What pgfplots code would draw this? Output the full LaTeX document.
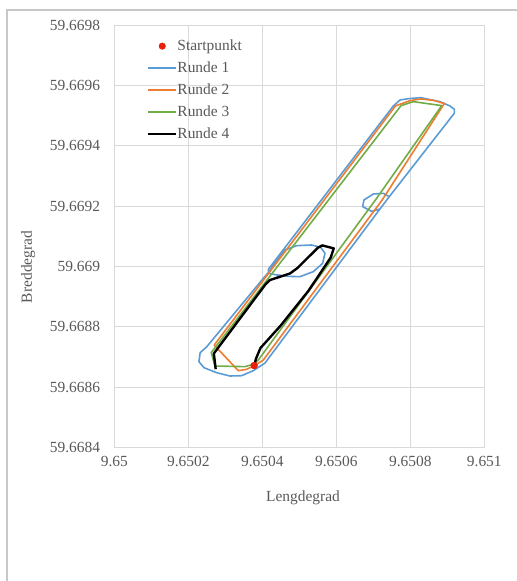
\documentclass[border=0pt]{standalone}
\usepackage{fontspec}
\setmainfont{Liberation Serif}
\usepackage{pgfplots}
\pgfplotsset{compat=1.18}
\definecolor{gridgray}{HTML}{D9D9D9}
\definecolor{framegray}{HTML}{C8C8C8}
\definecolor{textgray}{HTML}{595959}
\definecolor{xlblue}{HTML}{5B9BD5}
\definecolor{xlorange}{HTML}{ED7D31}
\definecolor{xlgreen}{HTML}{70AD47}
\definecolor{xlred}{HTML}{E8200C}
\begin{document}
\begin{tikzpicture}[x=1bp,y=1bp]
\path[use as bounding box] (0,0) rectangle (517,581);
\draw[framegray,line width=1.2bp] (7,0) -- (7,571) -- (517,571);
\begin{axis}[
  at={(114.3bp,133.3bp)}, anchor=south west,
  width=370bp, height=422.7bp, scale only axis,
  xmin=9.65, xmax=9.651, ymin=59.6684, ymax=59.6698,
  xtick={9.65,9.6502,9.6504,9.6506,9.6508,9.651},
  xticklabels={9.65,9.6502,9.6504,9.6506,9.6508,9.651},
  ytick={59.6684,59.6686,59.6688,59.669,59.6692,59.6694,59.6696,59.6698},
  yticklabels={59.6684,59.6686,59.6688,59.669,59.6692,59.6694,59.6696,59.6698},
  scaled ticks=false,
  grid=major, major grid style={gridgray, line width=0.9bp},
  axis line style={gridgray, line width=0.9bp},
  major tick length=0pt,
  tick label style={font=\fontsize{15.5}{18}\selectfont, text=textgray},
  yticklabel style={anchor=east, inner sep=0pt, xshift=-14bp},
  xticklabel style={anchor=north, inner sep=0pt, yshift=-8.5bp},
  xlabel={Lengdegrad}, ylabel={Breddegrad},
  label style={font=\fontsize{15.5}{18}\selectfont, text=textgray},
  xlabel style={at={(axis description cs:0.51,-0.119)}, anchor=center},
  ylabel style={at={(axis description cs:-0.233,0.4275)}, anchor=center, rotate=0},
  legend style={draw=none, fill=none, at={(axis description cs:0.088,0.967)}, anchor=north west,
    inner sep=0pt, row sep=8bp, font=\fontsize{15.5}{18}\selectfont, text=textgray,
    nodes={inner sep=0pt, text height=11bp, text depth=3bp}},
  legend cell align=left,
  legend image code/.code={\draw[mark repeat=2,mark phase=2,#1] plot coordinates {(0bp,0bp) (14bp,0bp) (28bp,0bp)};},
]
\addplot[only marks, mark=*, mark size=3.3bp, color=xlred] coordinates {(9.650378,59.668672)};
\addlegendentry{Startpunkt}
\addplot[xlblue, line width=1.6bp, line join=round] coordinates {
(9.650407,59.668680) (9.650718,59.6691905) (9.6507432,59.6692314) (9.650727,59.6692424)
(9.650700,59.6692402) (9.6506748,59.6692204) (9.6506712,59.6691983) (9.6506955,59.6691828)
(9.650718,59.6691905) (9.6507432,59.6692314)
(9.6509189,59.6695074) (9.6509189,59.6695207) (9.6509072,59.6695317) (9.6508802,59.6695461)
(9.6508279,59.6695593) (9.6507946,59.669556) (9.6507721,59.6695516) (9.6507541,59.6695317)
(9.6504162,59.6689907) (9.6504162,59.6689774) (9.650440,59.668972) (9.6504703,59.6689675)
(9.6505018,59.6689664) (9.6505378,59.668983) (9.6505631,59.6690106) (9.6505694,59.6690437)
(9.6505577,59.6690636) (9.6505333,59.6690713) (9.6504928,59.6690691) (9.650462,59.669055)
(9.650440,59.669020) (9.650420,59.668985) (9.6504027,59.6689609) (9.650250,59.6687345)
(9.650232,59.6687147) (9.6502288,59.6686849) (9.6502423,59.668665) (9.6502766,59.6686484)
(9.6503126,59.6686374) (9.6503441,59.6686385) (9.6503757,59.6686551) (9.650407,59.668680)};
\addlegendentry{Runde 1}
\addplot[xlorange, line width=1.6bp, line join=round] coordinates {
(9.6503784,59.6686716) (9.6503577,59.6686595) (9.6503351,59.6686551) (9.650270,59.668740)
(9.650760,59.669532) (9.6507991,59.6695494) (9.6508279,59.6695549) (9.6508622,59.6695505)
(9.650892,59.669540) (9.650724,59.6692204) (9.6504027,59.6686904)
(9.6503784,59.6686716)};
\addlegendentry{Runde 2}
\addplot[xlgreen, line width=1.6bp, line join=round] coordinates {
(9.6503784,59.6686771) (9.6503532,59.6686683) (9.6502721,59.6686705) (9.650262,59.668715)
(9.650775,59.669533) (9.6508081,59.6695461) (9.650885,59.669533)
(9.650707,59.6692226) (9.6503892,59.6686904) (9.6503784,59.6686771)};
\addlegendentry{Runde 3}
\addplot[black, line width=2.4bp, line join=round] coordinates {
(9.650378,59.668672) (9.650383,59.668695) (9.650395,59.668730) (9.650450,59.668805)
(9.650525,59.668920) (9.650585,59.669030) (9.650593,59.669060) (9.650562,59.669070)
(9.650550,59.669062) (9.650495,59.668995) (9.650475,59.668977) (9.650420,59.668955)
(9.650408,59.668940) (9.650280,59.668730) (9.650269,59.668712) (9.650274,59.668660)};
\addlegendentry{Runde 4}
\addplot[only marks, mark=*, mark size=3.3bp, color=xlred, forget plot] coordinates {(9.650378,59.668672)};
\end{axis}
\end{tikzpicture}
\end{document}
